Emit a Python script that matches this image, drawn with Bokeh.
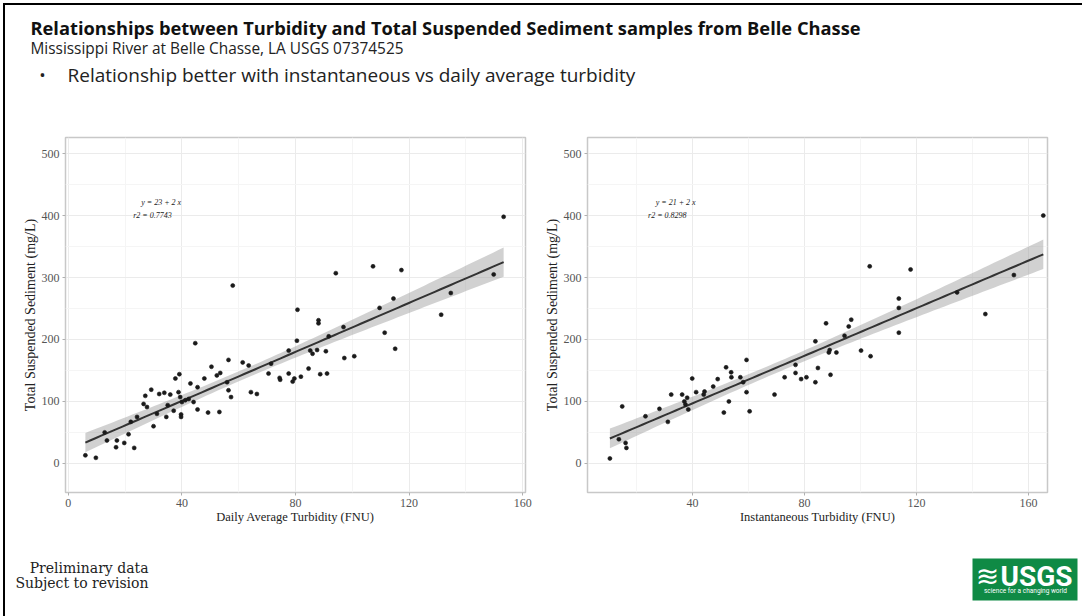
import numpy as np
from bokeh.plotting import figure
from bokeh.models import FixedTicker, Label, ColumnDataSource, Range1d, BoxAnnotation, Spacer
from bokeh.layouts import column, row
from bokeh.embed import file_html
from bokeh.resources import INLINE

# ---------------- data ----------------
left_x = [6, 9.7, 13.6, 12.8, 17.1, 16.8, 19.7, 21.2, 23.2, 22,
          24.2, 27.1, 26.5, 27.7, 29.2, 30, 31.2, 32, 33.8, 34.5,
          35, 35.9, 37.1, 37.7, 39.1, 38.8, 39.4, 40, 39.7, 39.7,
          41.2, 42.4, 43, 44.1, 44.7, 45.5, 45.5, 47.9, 49.2, 50.4,
          52.3, 53.5, 53.2, 55.9, 56.4, 56.4, 57.3, 57.9, 61.4, 63.5,
          64.3, 66.4, 70.5, 71.4, 74.4, 74.6, 77.6, 77.6, 79, 79.6,
          80.5, 80.7, 81.9, 84.6, 85.2, 86, 87.6, 88.1, 88.1, 88.7,
          90.7, 91.1, 91.7, 94.2, 107.3, 117.3, 114.5, 109.6, 96.9, 111.4,
          115.1, 97.2, 100.7, 131.3, 134.7, 149.8, 153.3]
left_y = [13, 9, 37, 50, 37, 26, 33, 47, 25, 67,
          75, 109, 96, 91, 119, 60, 80, 112, 114, 75,
          94, 111, 85, 137, 144, 115, 107, 99, 79, 75,
          102, 104, 129, 99, 194, 123, 87, 137, 82, 156,
          142, 146, 83, 131, 167, 118, 107, 287, 163, 158,
          115, 112, 145, 161, 138, 135, 182, 145, 132, 137,
          198, 248, 140, 153, 182, 177, 183, 231, 226, 144,
          181, 145, 205, 307, 318, 312, 266, 251, 220, 211,
          185, 170, 173, 240, 275, 305, 398]

right_x = [10.5, 14.9, 13.7, 16.1, 16.4, 23.2, 28.2, 31.2, 32.4, 36.3,
           37.1, 37.5, 38.1, 38.5, 39.9, 41.3, 44.3, 44, 47.4, 49,
           51.2, 52, 53, 53.8, 53.9, 57.1, 58.1, 59.3, 59.3, 60.4,
           69.3, 72.9, 76.8, 76.8, 78.8, 80.7, 83.9, 84.8, 83.9, 87.7,
           88.7, 89, 91.4, 89.3, 94.3, 95.8, 96.7, 100.2, 103.6, 103.3,
           113.7, 113.7, 113.7, 117.9, 134.5, 144.6, 154.8, 165.3]
right_y = [8, 92, 39, 33, 25, 76, 88, 67, 111, 111,
           100, 95, 106, 87, 137, 115, 116, 111, 124, 136,
           82, 155, 100, 147, 139, 139, 131, 167, 115, 84,
           111, 139, 159, 146, 136, 139, 131, 154, 197, 226,
           179, 183, 179, 143, 206, 221, 232, 182, 173, 318,
           266, 251, 211, 313, 276, 241, 304, 400]

x_ticks = [0, 40, 80, 120, 160]
x_minor = [20, 60, 100, 140]
y_ticks = [0, 100, 200, 300, 400, 500]
y_minor = [50, 150, 250, 350, 450]

left_xlabel = "Daily Average Turbidity (FNU)"
right_xlabel = "Instantaneous Turbidity (FNU)"
y_label = "Total Suspended Sediment (mg/L)"
left_eq, left_r2 = "y = 23 + 2 x", "r2 = 0.7743"
right_eq, right_r2 = "y = 21 + 2 x", "r2 = 0.8298"

title = "Relationships between Turbidity and Total Suspended Sediment samples from Belle Chasse"
subtitle = "Mississippi River at Belle Chasse, LA USGS 07374525"
bullet = "Relationship better with instantaneous vs daily average turbidity"
note_lines = ["Preliminary data", "Subject to revision"]
logo_text = "USGS"
logo_tag = "science for a changing world"

SERIF = "Liberation Serif"
SANS = "Open Sans"


def fit_band(xs, ys):
    x = np.asarray(xs, float)
    y = np.asarray(ys, float)
    n = len(x)
    b, a = np.polyfit(x, y, 1)
    resid = y - (a + b * x)
    s = np.sqrt((resid ** 2).sum() / (n - 2))
    xbar = x.mean()
    sxx = ((x - xbar) ** 2).sum()
    g = np.linspace(x.min(), x.max(), 80)
    yh = a + b * g
    se = s * np.sqrt(1.0 / n + (g - xbar) ** 2 / sxx)
    t = 1.99
    return g, yh, yh - t * se, yh + t * se


def panel(xs, ys, xr, xlabel, eq, r2, eq_pos, r2_pos, lb, rb):
    p = figure(frame_width=460, frame_height=355, x_range=xr, y_range=(-47, 526),
               min_border_left=lb, min_border_right=rb, min_border_top=12,
               min_border_bottom=45, output_backend="svg", toolbar_location=None)
    p.outline_line_color = "#c8c8c8"
    p.outline_line_width = 1.5
    p.xaxis.ticker = FixedTicker(ticks=x_ticks, minor_ticks=x_minor)
    p.yaxis.ticker = FixedTicker(ticks=y_ticks, minor_ticks=y_minor)
    for ax in (p.xaxis, p.yaxis):
        ax.axis_line_color = None
        ax.major_tick_line_color = "#b0b0b0"
        ax.major_tick_in = 0
        ax.major_tick_out = 3
        ax.minor_tick_line_color = None
        ax.major_label_standoff = 2
        ax.major_label_text_font = SERIF
        ax.major_label_text_font_size = "12px"
        ax.major_label_text_color = "#555555"
        ax.axis_label_text_font = SERIF
        ax.axis_label_text_font_style = "normal"
        ax.axis_label_text_color = "#222222"
    p.xaxis.axis_label = xlabel
    p.yaxis.axis_label = y_label
    p.xaxis.axis_label_text_font_size = "12.5px"
    p.yaxis.axis_label_text_font_size = "14px"
    p.xaxis.axis_label_standoff = 0
    p.yaxis.axis_label_standoff = 1
    for gr in (p.xgrid, p.ygrid):
        gr.grid_line_color = "#ebebeb"
        gr.grid_line_width = 1
        gr.minor_grid_line_color = "#f5f5f5"
        gr.minor_grid_line_width = 1

    g, yh, lo, hi = fit_band(xs, ys)
    src = ColumnDataSource(dict(x=g, yh=yh, lo=lo, hi=hi))
    p.varea(x="x", y1="lo", y2="hi", source=src, fill_color="#999999", fill_alpha=0.45)
    p.line(x="x", y="yh", source=src, line_color="#333333", line_width=2)
    p.scatter(x=xs, y=ys, size=4, fill_color="#1a1a1a", line_color="#1a1a1a",
              line_alpha=0.6)

    for txt, pos in ((eq, eq_pos), (r2, r2_pos)):
        p.add_layout(Label(x=pos[0], y=pos[1], text=txt, text_font=SERIF,
                           text_font_size="8px", text_font_style="italic",
                           text_color="#222222", text_align="center",
                           text_baseline="middle"))
    return p


def blank(w, h, x0, x1, y0, y1):
    # a plain canvas whose data coordinates equal page pixels (y downwards)
    f = figure(width=w, height=h, min_border=0, x_range=Range1d(x0, x1),
               y_range=Range1d(y1, y0), x_axis_location=None, y_axis_location=None,
               output_backend="svg", toolbar_location=None)
    f.outline_line_color = None
    f.xgrid.visible = False
    f.ygrid.visible = False
    return f


p1 = panel(left_x, left_y, (-1, 161), left_xlabel, left_eq, left_r2,
           (32.7, 421), (29.6, 400), 60, 12)
p2 = panel(right_x, right_y, (2.5, 166.8), right_xlabel, right_eq, right_r2,
           (34, 421), (31, 400), 50, 35)

# header canvas: page x 5..1082, page y 5..125
head = blank(1077, 120, 5, 1082, 5, 125)
head.add_layout(Label(x=30, y=27, text=title, text_font=SANS, text_font_size="18.3px",
                      text_font_style="bold", text_color="#111111",
                      text_baseline="alphabetic"))
head.add_layout(Label(x=30, y=48, text=subtitle, text_font=SANS, text_font_size="15.4px",
                      text_color="#222222", text_baseline="alphabetic"))
head.add_layout(Label(x=42, y=73.5, text="\u2022", text_font=SANS, text_font_size="17px",
                      text_color="#222222", text_align="center", text_baseline="alphabetic"))
head.add_layout(Label(x=67, y=74, text=bullet, text_font=SANS, text_font_size="19px",
                      text_color="#222222", text_baseline="alphabetic"))

# footer canvas: page x 5..1082, page y 537..616
foot = blank(1077, 79, 5, 1082, 537, 616)
foot.add_layout(Label(x=148, y=567, text=note_lines[0], text_font="DejaVu Serif",
                      text_font_size="14px", text_color="#222222", text_align="right",
                      text_baseline="alphabetic"))
foot.add_layout(Label(x=148, y=582, text=note_lines[1], text_font="DejaVu Serif",
                      text_font_size="14px", text_color="#222222", text_align="right",
                      text_baseline="alphabetic"))
foot.add_layout(BoxAnnotation(left=972, right=1077, top=558, bottom=600,
                              fill_color="#0f8a45", fill_alpha=1.0, line_color=None))
foot.add_layout(Label(x=987, y=576, text="\u224b", text_font="DejaVu Sans",
                      text_font_size="28px", text_color="white", text_align="center",
                      text_baseline="alphabetic"))
foot.add_layout(Label(x=1000, y=576, text=logo_text, text_font="Roboto",
                      text_font_size="28px", text_font_style="bold", text_color="white",
                      text_baseline="alphabetic"))
foot.add_layout(Label(x=1025, y=590, text=logo_tag, text_font="Roboto",
                      text_font_size="6.5px", text_color="white", text_align="center",
                      text_baseline="alphabetic"))

content = column(head, row(p1, p2), foot)
left_line = Spacer(width=2, height=611, styles={"background-color": "#000000"})
top_line = Spacer(width=1079, height=2, styles={"background-color": "#000000"})
framed = column(top_line, row(left_line, content))
page = column(Spacer(width=1082, height=3), row(Spacer(width=3, height=613), framed))

open("out.html", "w").write(file_html(page, INLINE))
